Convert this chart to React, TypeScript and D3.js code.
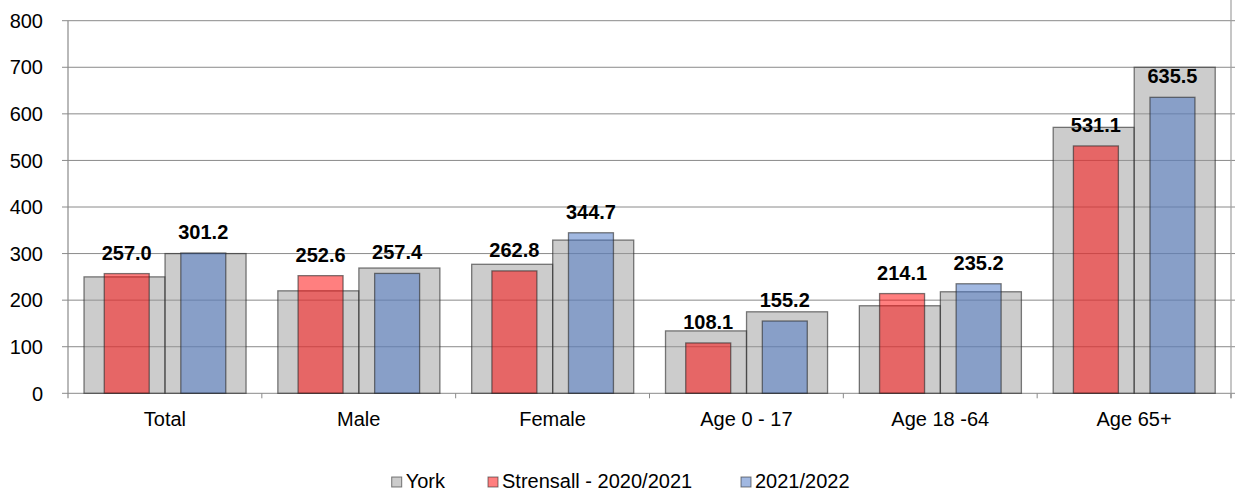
import React from "react";
import * as d3 from "d3";

const categories = ["Total", "Male", "Female", "Age 0 - 17", "Age 18 -64", "Age 65+"];
const york2020 = [250, 220, 277, 134, 188, 571];
const york2021 = [300, 269, 329, 175, 218, 700];
const strensall2020 = [257.0, 252.6, 262.8, 108.1, 214.1, 531.1];
const strensall2021 = [301.2, 257.4, 344.7, 155.2, 235.2, 635.5];
const yTicks = [0, 100, 200, 300, 400, 500, 600, 700, 800];
const legendItems = ["York", "Strensall - 2020/2021", "2021/2022"];

const W = 1235;
const H = 491;
const left = 68;
const right = 1231;
const top = 20.7;
const bottom = 393.3;
const FONT = "Arial, 'Liberation Sans', sans-serif";

const GREY = "rgba(153,153,153,0.5)";
const RED = "rgba(255,0,0,0.5)";
const BLUE = "rgba(68,114,196,0.5)";
const STROKE = "rgba(40,40,40,0.6)";

export default function App() {
  const x = d3.scaleBand<string>().domain(categories).range([left, right]).padding(0);
  const y = d3.scaleLinear().domain([0, 800]).range([bottom, top]);
  const B = x.bandwidth();
  const gW = 0.418 * B;
  const gOff = 0.0826 * B;
  const nW = 0.232 * B;
  const rOff = 0.187 * B;
  const bOff = 0.582 * B;

  const legendX = [391.7, 488, 741];

  return (
    <svg width={W} height={H} style={{ position: "fixed", left: 0, top: 0, background: "#fff" }}>
      {/* gridlines */}
      {yTicks.map((t) => (
        <g key={"g" + t}>
          <line x1={left - 6} x2={W} y1={y(t)} y2={y(t)} stroke="#8a8a8a" strokeWidth={1} />
          <text x={43} y={y(t)} dy="0.36em" textAnchor="end" fontFamily={FONT} fontSize={20} fill="#000">
            {t}
          </text>
        </g>
      ))}
      {/* axes */}
      <line x1={left} x2={left} y1={top} y2={bottom + 5} stroke="#8a8a8a" strokeWidth={1.2} />
      <line x1={right} x2={right} y1={0} y2={bottom + 5} stroke="#a0a0a0" strokeWidth={1.2} />
      {categories.map((c, i) => (
        <line key={"t" + i} x1={x(c)! + B} x2={x(c)! + B} y1={bottom} y2={bottom + 5} stroke="#8a8a8a" strokeWidth={1} />
      ))}
      {/* York bars */}
      {categories.map((c, i) => (
        <g key={"y" + i}>
          <rect x={x(c)! + gOff} y={y(york2020[i])} width={gW} height={bottom - y(york2020[i])} fill={GREY} stroke={STROKE} strokeWidth={1.3} />
          <rect x={x(c)! + gOff + gW} y={y(york2021[i])} width={gW} height={bottom - y(york2021[i])} fill={GREY} stroke={STROKE} strokeWidth={1.3} />
        </g>
      ))}
      {/* Strensall bars */}
      {categories.map((c, i) => (
        <g key={"s" + i}>
          <rect x={x(c)! + rOff} y={y(strensall2020[i])} width={nW} height={bottom - y(strensall2020[i])} fill={RED} stroke={STROKE} strokeWidth={1.3} />
          <rect x={x(c)! + bOff} y={y(strensall2021[i])} width={nW} height={bottom - y(strensall2021[i])} fill={BLUE} stroke={STROKE} strokeWidth={1.3} />
        </g>
      ))}
      {/* labels */}
      {categories.map((c, i) => (
        <g key={"l" + i}>
          <text x={x(c)! + rOff + nW / 2} y={y(strensall2020[i]) - 14} textAnchor="middle" fontFamily={FONT} fontSize={20} fontWeight="bold" fill="#000">
            {strensall2020[i].toFixed(1)}
          </text>
          <text x={x(c)! + bOff + nW / 2} y={y(strensall2021[i]) - 14} textAnchor="middle" fontFamily={FONT} fontSize={20} fontWeight="bold" fill="#000">
            {strensall2021[i].toFixed(1)}
          </text>
        </g>
      ))}
      {/* category labels */}
      {categories.map((c, i) => (
        <text key={"c" + i} x={x(c)! + B / 2} y={426} textAnchor="middle" fontFamily={FONT} fontSize={20} fill="#000">
          {c}
        </text>
      ))}
      {/* legend */}
      {legendItems.map((l, i) => (
        <g key={"lg" + i}>
          <rect x={legendX[i]} y={477} width={10} height={10} fill={[GREY, RED, BLUE][i]} stroke={STROKE} strokeWidth={1} />
          <text x={legendX[i] + 14} y={488} fontFamily={FONT} fontSize={20} fill="#000">
            {l}
          </text>
        </g>
      ))}
    </svg>
  );
}
